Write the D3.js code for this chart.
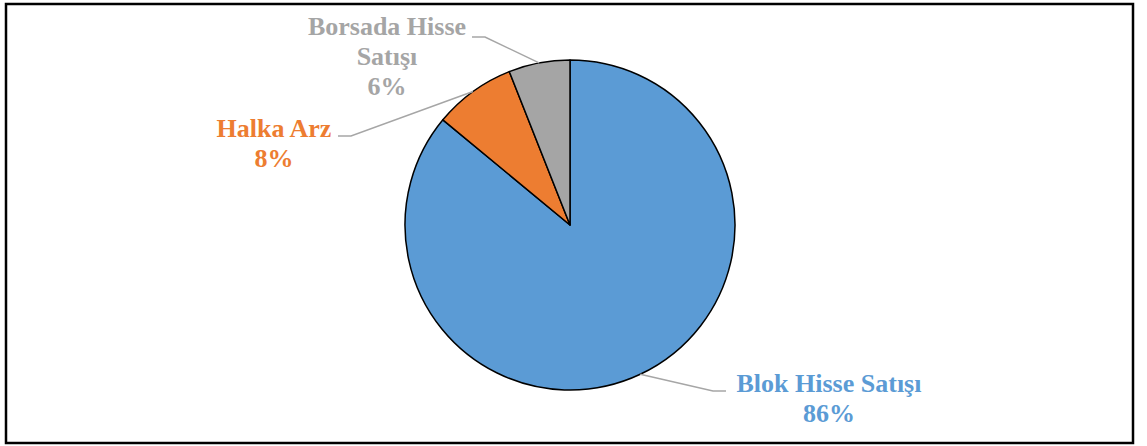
<!DOCTYPE html>
<html>
<head>
<meta charset="utf-8">
<script src="https://cdn.jsdelivr.net/npm/d3@7/dist/d3.min.js"></script>
<style>
  html, body { margin: 0; padding: 0; background: #fff; }
</style>
</head>
<body>
<div id="chart"></div>
<script>
// Pie data
const categories = ['Blok Hisse Satışı', 'Halka Arz', 'Borsada Hisse Satışı'];
const values = [86, 8, 6];
const colors = ['#5B9BD5', '#ED7D31', '#A5A5A5'];
// label lines (as they wrap in the original)
const labelLines = [['Blok Hisse Satışı', '86%'], ['Halka Arz', '8%'], ['Borsada Hisse', 'Satışı', '6%']];

const width = 1147, height = 446;
const cx = 570, cy = 225, r = 165;

const svg = d3.select('#chart').append('svg')
    .attr('width', width)
    .attr('height', height);

// frame
svg.append('rect')
    .attr('x', 6).attr('y', 4)
    .attr('width', 1127).attr('height', 439)
    .attr('fill', 'none')
    .attr('stroke', '#000')
    .attr('stroke-width', 2.5);

const pie = d3.pie().sort(null).value(d => d)(values);
const arc = d3.arc().innerRadius(0).outerRadius(r);

const g = svg.append('g').attr('transform', `translate(${cx},${cy})`);

g.selectAll('path')
    .data(pie)
    .join('path')
    .attr('d', arc)
    .attr('fill', (d, i) => colors[i])
    .attr('stroke', '#000')
    .attr('stroke-width', 1.5)
    .attr('stroke-linejoin', 'round');

// label placement: text anchor point (center x, first baseline y) and leader line
const labelPos = [
    { x: 829, y: 392, lineEnd: [726, 391], dir: -1 },
    { x: 274, y: 137, lineEnd: [338, 136], dir: 1 },
    { x: 387, y: 35, lineEnd: [472, 37], dir: 1 }
];

pie.forEach((d, i) => {
    const p = labelPos[i];
    const mid = (d.startAngle + d.endAngle) / 2;
    // point on the edge where the leader touches
    const ex = cx + Math.sin(mid) * r;
    const ey = cy - Math.cos(mid) * r;
    const [lx, ly] = p.lineEnd;
    const kx = lx + p.dir * 13;
    svg.append('polyline')
        .attr('points', `${ex},${ey} ${kx},${ly} ${lx},${ly}`)
        .attr('fill', 'none')
        .attr('stroke', '#A6A6A6')
        .attr('stroke-width', 1.5);

    const t = svg.append('text')
        .attr('x', p.x)
        .attr('y', p.y)
        .attr('text-anchor', 'middle')
        .attr('font-family', '"Liberation Serif", "Times New Roman", serif')
        .attr('font-weight', 'bold')
        .attr('font-size', '26px')
        .attr('fill', colors[i]);
    labelLines[i].forEach((s, j) => {
        t.append('tspan')
            .attr('x', p.x)
            .attr('dy', j === 0 ? 0 : 30)
            .text(s);
    });
});
</script>
</body>
</html>
